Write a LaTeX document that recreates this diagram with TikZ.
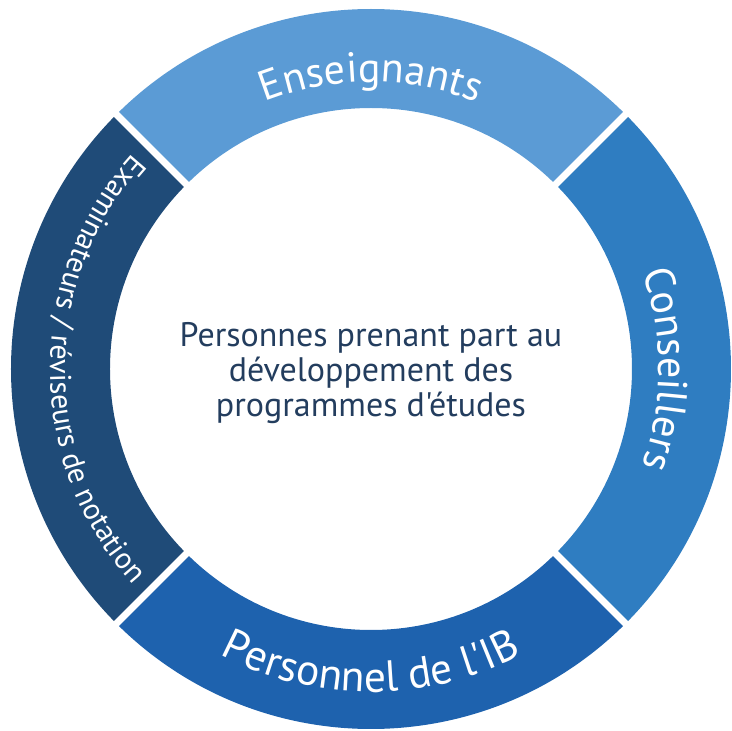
\documentclass[tikz,border=0pt]{standalone}
\usepackage{fontspec}
\setmainfont{PT Sans}[Ligatures=TeXOff]
\usetikzlibrary{decorations.text}
\definecolor{ensblue}{HTML}{5B9BD5}
\definecolor{consblue}{HTML}{2F7DC1}
\definecolor{ibblue}{HTML}{1E62AE}
\definecolor{exanavy}{HTML}{1F4B78}
\definecolor{topicink}{HTML}{233D5E}
\newcommand{\ringfont}[1]{\fontsize{#1}{#1}\selectfont}

\begin{document}
\begin{tikzpicture}[x=1pt,y=1pt]
\tikzset{
  sector/.style={fill=#1},
  gapline/.style={white, line width=7pt},
  ringlabel/.style={decorate, decoration={text along path, text align=center,
      text color=white, text={#1}}},
  topic/.style={align=center, text=topicink, font=\fontsize{34}{35}\selectfont}
}
\useasboundingbox (-371,-362) rectangle (361,369);

    % anneau
    \fill[sector=ensblue]  (45:360) arc (45:135:360) -- (135:261) arc (135:45:261) -- cycle;
    \fill[sector=exanavy]  (135:360) arc (135:225:360) -- (225:261) arc (225:135:261) -- cycle;
    \fill[sector=ibblue]   (225:360) arc (225:315:360) -- (315:261) arc (315:225:261) -- cycle;
    \fill[sector=consblue] (315:360) arc (315:405:360) -- (405:261) arc (405:315:261) -- cycle;

    % separations blanches
    \foreach \a in {45,135,225,315}
      \draw[gapline] (\a:250) -- (\a:372);

    % textes sur l'anneau
    \path[ringlabel={|\ringfont{42}|Enseignants}] (135:287) arc (135:45:287);
    \path[ringlabel={|\ringfont{42}|Conseillers}] (45:288) arc (45:-45:288);
    \path[ringlabel={|\ringfont{43.5}|Personnel de l'IB}] (225:323) arc (225:315:323);
    \path[ringlabel={|\ringfont{30}|Examinateurs / réviseurs de notation}] (135:321) arc (135:225:321);

    % centre
    \node[topic] (center) at (0,-4) {Personnes prenant part au\\ développement des\\ programmes d'études};

\end{tikzpicture}
\end{document}
